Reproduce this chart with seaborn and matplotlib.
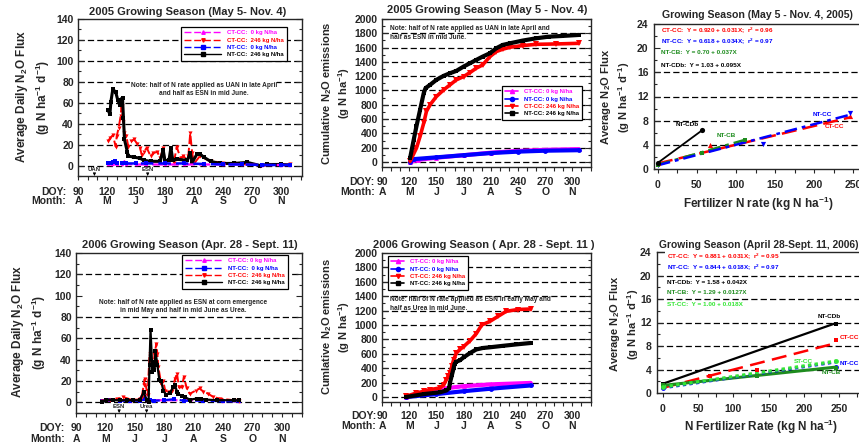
import numpy as np
import pandas as pd
import matplotlib
matplotlib.use("Agg")
import matplotlib.pyplot as plt
import seaborn as sns
from matplotlib.lines import Line2D
from matplotlib.ticker import MultipleLocator
import matplotlib.transforms as mtrans

# ---------------- data ----------------
doy_ticks = [90, 120, 150, 180, 210, 240, 270, 300]
month_labels = ["A", "M", "J", "J", "A", "S", "O", "N"]

# 2005 daily flux
d05_nt246 = [121, 123, 124, 126, 129, 131, 133, 134, 136, 137, 138, 141, 142, 148, 154, 158, 165, 175, 178,
             180, 184, 186, 188, 192, 203, 206, 208, 213, 216, 220, 227, 237, 251, 265, 278, 285, 300, 309]
f05_nt246 = [53, 49, 61, 73, 70, 63, 58, 63, 65, 45, 25, 13, 9, 8, 7, 5, 4, 4, 15,
             4, 5, 17, 5, 6, 5, 12, 3, 11, 11, 8, 4, 2, 2, 3, 0, 1, 1, 0.5]
d05_ct246 = [121, 123, 126, 129, 130, 132, 134, 135, 137, 138, 140, 142, 145, 148, 151, 154, 156, 158, 161, 165,
             168, 172, 175, 178, 180, 185, 189, 192, 196, 199, 203, 204, 206, 208, 210, 216, 227, 251, 278, 309]
f05_ct246 = [23, 26, 29, 18, 28, 36, 47, 57, 42, 31, 28, 18, 23, 25, 21, 17, 10, 13, 17, 9,
             12, 13, 7, 17, 2, 7, 2, 18, 7, 9, 5, 9, 31, 12, 2, 9, 4, 2, 0, 1]
d05_ct0 = [121, 125, 130, 135, 138, 140, 150, 160, 180, 200, 220, 240, 260, 280, 300, 309]
f05_ct0 = [1, 1, 1, 1.5, 4, 1.5, 1, 1, 1, 1, 1, 1, 1, 0.5, 0.5, 0.5]
d05_nt0 = [121, 124, 126, 128, 130, 135, 140, 150, 160, 180, 200, 220, 240, 260, 280, 300, 309]
f05_nt0 = [2, 2, 3, 4.5, 2, 2, 2, 2, 2, 2, 2, 1.5, 1, 1, 0.5, 0.5, 0.5]

# 2005 cumulative
c05_doy_nt246 = [121, 125, 128, 132, 136, 138, 143, 150, 158, 165, 172, 180, 187, 194, 201, 209, 216, 223, 231,
                 245, 260, 274, 289, 307]
c05_nt246 = [56, 312, 500, 730, 963, 1033, 1079, 1149, 1205, 1242, 1274, 1335, 1381, 1428, 1474, 1521, 1591,
             1637, 1660, 1698, 1730, 1753, 1763, 1777]
c05_doy_ct246 = [121, 128, 132, 136, 139, 143, 150, 158, 165, 172, 180, 187, 194, 201, 209, 216, 223, 231, 245,
                 260, 282, 307]
c05_ct246 = [10, 195, 358, 544, 707, 800, 916, 1009, 1079, 1149, 1195, 1251, 1312, 1358, 1474, 1544, 1577, 1605,
             1628, 1646, 1651, 1660]
c05_doy_ct0 = [121, 130, 150, 180, 210, 240, 270, 307]
c05_ct0 = [0, 30, 60, 95, 130, 155, 170, 180]
c05_doy_nt0 = [121, 125, 150, 180, 210, 240, 270, 307]
c05_nt0 = [5, 40, 65, 95, 125, 145, 158, 165]

# 2006 daily flux
d06_nt246 = [117, 121, 128, 135, 142, 148, 155, 159, 162, 164, 165, 166, 168, 169, 170, 171, 173, 175, 177, 179,
             182, 186, 189, 191, 193, 194, 198, 201, 206, 213, 217, 223, 234, 251, 256]
f06_nt246 = [0, 2.5, 2, 2, 2, 2, 2, 9.5, 2, 0, 35, 68, 28, 37, 30, 48, 35, 21, 20, 11,
             7, 9, 14, 16, 10, 8, 6, 5, 2.5, 3.5, 3.5, 2.5, 2, 2, 2]
d06_ct246 = [117, 125, 132, 138, 148, 155, 157, 159, 160, 163, 165, 167, 169, 170, 172, 173, 174, 177, 179, 181,
             184, 188, 191, 193, 195, 198, 200, 203, 206, 212, 216, 220, 225, 230, 237, 251, 256]
f06_ct246 = [1, 2, 3, 5, 2, 3, 5, 16, 22, 6.5, 45, 36, 33, 45, 55, 45, 33, 17, 20, 11,
             10, 11, 22, 27, 14, 14, 24, 13, 8, 11, 13, 10, 8, 5, 3.4, 2, 1.5]
d06_ct0 = [117, 125, 135, 145, 155, 159, 162, 170, 180, 200, 220, 240, 256]
f06_ct0 = [1, 3, 2, 1.5, 2, 11, 2, 2, 2, 2, 2, 1.5, 1]
d06_nt0 = [117, 125, 135, 145, 155, 160, 165, 170, 180, 190, 200, 220, 240, 256]
f06_nt0 = [1, 2, 1.5, 1.5, 1.5, 3, 2, 1.5, 2, 3, 1.5, 1.5, 1, 1]

# 2006 cumulative
c06_doy_ct246 = [117, 128, 136, 143, 154, 158, 161, 163, 165, 167, 169, 172, 176, 180, 187, 194, 200, 209, 218,
                 227, 240, 254]
c06_ct246 = [10, 55, 79, 102, 125, 171, 240, 287, 333, 426, 518, 610, 660, 700, 780, 880, 1000, 1050, 1120,
             1190, 1215, 1222]
c06_doy_nt246 = [117, 136, 154, 161, 164, 165, 167, 169, 170, 172, 176, 180, 187, 194, 201, 209, 223, 238, 254]
c06_nt246 = [0, 40, 65, 90, 120, 200, 300, 400, 460, 490, 510, 550, 610, 660, 680, 690, 710, 730, 750]
c06_doy_ct0 = [117, 140, 155, 160, 180, 210, 254]
c06_ct0 = [5, 50, 80, 120, 150, 175, 195]
c06_doy_nt0 = [117, 150, 180, 210, 254]
c06_nt0 = [0, 40, 80, 115, 160]

# regression panels (N rate kg/ha vs average flux)
r05_ct_x, r05_ct_y = [0, 67, 246], [1.0, 3.9, 8.8]
r05_nt_x, r05_nt_y = [0, 134, 246], [0.7, 4.1, 9.3]
r05_cb_x, r05_cb_y = [0, 56, 112], [0.7, 2.7, 4.8]
r05_cdb_x, r05_cdb_y = [0, 56], [1.0, 6.4]
r05_fit = {"CT-CC": (0.920, 0.031, 246), "NT-CC": (0.618, 0.034, 246),
           "NT-CB": (0.70, 0.037, 112), "NT-CDb": (1.03, 0.095, 56)}

r06_ct_x, r06_ct_y = [0, 67, 134, 246], [1.1, 2.9, 4.0, 9.0]
r06_nt_x, r06_nt_y = [0, 246], [0.9, 4.5]
r06_cdb_x, r06_cdb_y = [0, 246], [1.6, 11.8]
r06_cb_x, r06_cb_y = [0, 134, 246], [1.3, 2.9, 4.2]
r06_st_x, r06_st_y = [0, 246], [1.0, 5.5]
r06_fit = {"CT-CC": (0.881, 0.031, 246), "NT-CC": (0.844, 0.018, 246), "NT-CDb": (1.58, 0.042, 246),
           "NT-CB": (1.29, 0.0127, 246), "ST-CC": (1.00, 0.018, 246)}

MAG, RED, BLUE, BLK = "#ff00ff", "#ff0000", "#0000ff", "#000000"
GRN, LIME = "#1e8c1e", "#33e633"

# ---------------- figure ----------------
sns.set_style("ticks")
plt.rcParams['font.family'] = ['Liberation Sans', 'DejaVu Sans']
plt.rcParams['font.weight'] = 'bold'
plt.rcParams['mathtext.fontset'] = 'custom'
plt.rcParams['mathtext.rm'] = 'Liberation Sans:bold'
plt.rcParams['mathtext.bf'] = 'Liberation Sans:bold'
plt.rcParams['mathtext.default'] = 'rm'
plt.rcParams['axes.linewidth'] = 1.0

W, H = 859, 443
fig = plt.figure(figsize=(W / 100, H / 100), dpi=100)


def add_ax(l, t, r, b):
    return fig.add_axes([l / W, 1 - b / H, (r - l) / W, (b - t) / H])


def ftext(x, y, s, **kw):
    return fig.text(x / W, 1 - y / H, s, **kw)


GRID_LS = (0, (5, 2.5))
TICK_FS = 7.5


def line(ax, x, y, color, ls='-', lw=1.5, marker=None, ms=3, z=2):
    sns.lineplot(x=np.asarray(x, float), y=np.asarray(y, float), ax=ax, color=color, linestyle=ls, lw=lw,
                 marker=marker, markersize=ms, markeredgewidth=0, estimator=None, sort=False, legend=False,
                 zorder=z)


def time_axis(ax, ylim, ymaj, ymin, grid_vals, doy_y, mon_y, colon_x):
    ax.set_xlim(90, 320.5)
    ax.set_ylim(*ylim)
    ax.xaxis.set_major_locator(MultipleLocator(30))
    ax.xaxis.set_minor_locator(MultipleLocator(10))
    ax.yaxis.set_major_locator(MultipleLocator(ymaj))
    ax.yaxis.set_minor_locator(MultipleLocator(ymin))
    ax.set_yticks([v for v in np.arange(0, ylim[1] + 1, ymaj)])
    ax.tick_params(axis='x', which='both', direction='out', length=3, width=0.8, labelbottom=False)
    ax.tick_params(axis='y', which='both', direction='in', left=True, right=True, width=0.8,
                   labelsize=TICK_FS, pad=3)
    ax.tick_params(axis='y', which='major', length=4)
    ax.tick_params(axis='y', which='minor', length=2.5)
    for lab in ax.get_yticklabels():
        lab.set_fontweight('bold')
    for v in grid_vals:
        ax.axhline(v, color='k', ls=GRID_LS, lw=0.9, zorder=0.5)
    tr = mtrans.blended_transform_factory(ax.transData, fig.transFigure)
    for d, m in zip(doy_ticks, month_labels):
        ax.text(d, 1 - doy_y / H, str(d), transform=tr, ha='center', va='center', fontsize=TICK_FS,
                fontweight='bold', clip_on=False)
        ax.text(d, 1 - mon_y / H, m, transform=tr, ha='center', va='center', fontsize=TICK_FS,
                fontweight='bold', clip_on=False)
    ftext(colon_x, doy_y, "DOY:", ha='right', va='center', fontsize=TICK_FS, fontweight='bold')
    ftext(colon_x, mon_y, "Month:", ha='right', va='center', fontsize=TICK_FS, fontweight='bold')
    for s in ax.spines.values():
        s.set_visible(True)
        s.set_linewidth(1.0)


def reg_axis(ax, xlim, grid_vals):
    ax.set_xlim(*xlim)
    ax.set_ylim(0, 24)
    ax.set_xticks([0, 50, 100, 150, 200, 250])
    ax.xaxis.set_minor_locator(MultipleLocator(25))
    ax.set_yticks([0, 4, 8, 12, 16, 20, 24])
    ax.yaxis.set_minor_locator(MultipleLocator(2))
    ax.tick_params(axis='x', which='both', direction='out', length=3, width=0.8, labelsize=TICK_FS, pad=5)
    ax.tick_params(axis='y', which='both', direction='in', left=True, right=True, width=0.8,
                   labelsize=TICK_FS, pad=4)
    ax.tick_params(axis='y', which='major', length=4)
    ax.tick_params(axis='y', which='minor', length=2.5)
    for lab in ax.get_yticklabels() + ax.get_xticklabels():
        lab.set_fontweight('bold')
    for v in grid_vals:
        ax.axhline(v, color='k', ls=GRID_LS, lw=0.9, zorder=0.5)
    for s in ax.spines.values():
        s.set_visible(True)
        s.set_linewidth(1.0)


def make_legend(ax, handles, labels, colors, x, y, hl, fs=4.3):
    leg = ax.legend(handles, labels, loc='upper left', bbox_to_anchor=(x / W, 1 - y / H),
                    bbox_transform=fig.transFigure, fontsize=fs, frameon=True, fancybox=False,
                    edgecolor='k', framealpha=1, handlelength=hl, handletextpad=0.9, borderpad=0.55,
                    labelspacing=0.35, borderaxespad=0, prop={'weight': 'bold', 'size': fs})
    leg.get_frame().set_linewidth(0.9)
    for t, c in zip(leg.get_texts(), colors):
        t.set_color(c)
    leg.set_zorder(5)
    return leg


# ---------------- Panel 1: 2005 daily ----------------
ax1 = add_ax(78, 19, 302, 176)
line(ax1, d05_ct0, f05_ct0, MAG, ls=(0, (5, 2)), lw=1.6, marker='^', ms=2.5, z=3)
line(ax1, d05_ct246, f05_ct246, RED, ls=(0, (5, 2)), lw=1.4, marker='v', ms=3, z=2.5)
line(ax1, d05_nt246, f05_nt246, BLK, ls='-', lw=2.2, marker='s', ms=2.6, z=2.6)
line(ax1, d05_nt0, f05_nt0, BLUE, ls=(0, (5, 2)), lw=1.8, marker='s', ms=2.5, z=3.2)
time_axis(ax1, (-10, 140), 20, 10, [0, 20, 40, 60, 80, 100, 120], 192, 201, 66)
ax1.set_xlim(90, 321.5)
ftext(188, 12, "2005 Growing Season (May 5- Nov. 4)", ha='center', va='center', fontsize=8, fontweight='bold')
ftext(22, 97, "Average Daily N$_2$O Flux", rotation=90, ha='center', va='center', fontsize=8.5, fontweight='bold')
ftext(43, 97, "(g N ha$^{-1}$ d$^{-1}$)", rotation=90, ha='center', va='center', fontsize=8.5, fontweight='bold')
ax1.text(220, 80, "Note: half of N rate applied as UAN in late April\nand half as ESN in mid June.",
         ha='center', va='top', fontsize=4.7, fontweight='bold', linespacing=1.3, zorder=4,
         bbox=dict(facecolor='white', edgecolor='none', pad=0.3))
for lbl, d in [("UAN", 107), ("ESN", 162)]:
    ax1.text(d, -3.5, lbl, ha='center', va='center', fontsize=4.3, fontweight='bold')
    ax1.annotate('', xy=(d, -10), xytext=(d, -5.5),
                 arrowprops=dict(arrowstyle='-|>', lw=0.6, color='k', mutation_scale=4))
h1 = [Line2D([], [], color=MAG, ls=(0, (5, 2)), lw=1, marker='^', ms=2.5),
      Line2D([], [], color=RED, ls=(0, (5, 2)), lw=1, marker='v', ms=2.5),
      Line2D([], [], color=BLUE, ls=(0, (5, 2)), lw=1, marker='s', ms=2.5),
      Line2D([], [], color=BLK, ls='-', lw=1, marker='s', ms=2.5)]
make_legend(ax1, h1, ["CT-CC:  0 kg N/ha", "CT-CC:  246 kg N/ha", "NT-CC:  0 kg N/ha", "NT-CC:  246 kg N/ha"],
            [MAG, RED, BLUE, BLK], 181, 27, 6.2)

# ---------------- Panel 2: 2005 cumulative ----------------
ax2 = add_ax(382, 19, 591, 167)
line(ax2, c05_doy_ct0, c05_ct0, MAG, lw=3, marker='^', ms=3.5, z=2)
line(ax2, c05_doy_nt0, c05_nt0, BLUE, lw=3, marker='o', ms=3.5, z=2.2)
line(ax2, c05_doy_ct246, c05_ct246, RED, lw=2.6, marker='v', ms=4, z=2.4)
line(ax2, c05_doy_nt246, c05_nt246, BLK, lw=3, marker='s', ms=3.5, z=2.6)
time_axis(ax2, (-70, 2000), 200, 100, list(range(0, 2000, 200)), 182, 192, 375)
ftext(487, 10, "2005 Growing Season (May 5 - Nov. 4)", ha='center', va='center', fontsize=8, fontweight='bold')
ftext(327, 93, "Cumulative N$_2$O emissions", rotation=90, ha='center', va='center', fontsize=8)
ftext(344, 93, "(g N ha$^{-1}$)", rotation=90, ha='center', va='center', fontsize=8)
ax2.text(99, 1910, "Note: half of N rate applied as UAN in late April and\nhalf as ESN in mid June.",
         ha='left', va='top', fontsize=4.7, fontweight='bold', linespacing=1.3, zorder=4)
h2 = [Line2D([], [], color=MAG, lw=1.2, marker='^', ms=3),
      Line2D([], [], color=BLUE, lw=1.2, marker='o', ms=3),
      Line2D([], [], color=RED, lw=1.2, marker='v', ms=3),
      Line2D([], [], color=BLK, lw=1.2, marker='s', ms=3)]
make_legend(ax2, h2, ["CT-CC: 0 kg N/ha", "NT-CC: 0 kg N/ha", "CT-CC: 246 kg N/ha", "NT-CC: 246 kg N/ha"],
            [MAG, BLUE, RED, BLK], 502, 86, 2.2)

# ---------------- Panel 3: 2005 regression ----------------
ax3 = add_ax(654, 24, 875, 169)
a, b, xm = r05_fit["CT-CC"]
line(ax3, [0, xm], [a, a + b * xm], RED, ls=(0, (6, 2.5)), lw=1.8, z=2)
a, b, xm = r05_fit["NT-CC"]
line(ax3, [0, xm], [a, a + b * xm], BLUE, ls=(0, (5, 2, 1.5, 2)), lw=1.8, z=2.2)
a, b, xm = r05_fit["NT-CB"]
line(ax3, [0, xm], [a, a + b * xm], GRN, ls=(0, (5, 2, 1.5, 2)), lw=1.8, z=2.1)
a, b, xm = r05_fit["NT-CDb"]
line(ax3, [0, xm], [a, a + b * xm], BLK, lw=1.3, z=2.3)
sns.scatterplot(x=r05_ct_x, y=r05_ct_y, ax=ax3, color=RED, marker='^', s=14, linewidth=0, zorder=3)
sns.scatterplot(x=r05_nt_x, y=r05_nt_y, ax=ax3, color=BLUE, marker='v', s=14, linewidth=0, zorder=3)
sns.scatterplot(x=r05_cb_x, y=r05_cb_y, ax=ax3, color=GRN, marker='s', s=10, linewidth=0, zorder=3)
sns.scatterplot(x=r05_cdb_x, y=r05_cdb_y, ax=ax3, color=BLK, marker='o', s=14, linewidth=0, zorder=3.5)
reg_axis(ax3, (-5, 278), [4, 8, 12, 16])
ftext(757, 15, "Growing Season (May 5 - Nov. 4, 2005)", ha='center', va='center', fontsize=7.6, fontweight='bold')
ftext(606, 97, "Average N$_2$O Flux", rotation=90, ha='center', va='center', fontsize=8, fontweight='bold')
ftext(624, 97, "(g N ha$^{-1}$ d$^{-1}$)", rotation=90, ha='center', va='center', fontsize=8, fontweight='bold')
ftext(758, 204, "Fertilizer N rate (kg N ha$^{-1}$)", ha='center', va='center', fontsize=8.5, fontweight='bold')
eq05 = [("CT-CC:  Y = 0.920 + 0.031X;  r$^2$ = 0.96", RED, 22.9),
        ("NT-CC:  Y = 0.618 + 0.034X;  r$^2$ = 0.97", BLUE, 21.1),
        ("NT-CB:  Y = 0.70 + 0.037X", GRN, 19.2),
        ("NT-CDb:  Y = 1.03 + 0.095X", BLK, 17.1)]
for s, c, yv in eq05:
    ax3.text(4, yv, s, color=c, ha='left', va='center', fontsize=4.6, fontweight='bold')
for s, c, xv, yv in [("NT-CDb", BLK, 38, 7.3), ("NT-CB", GRN, 88, 5.5), ("NT-CC", BLUE, 210, 9.1),
                     ("CT-CC", RED, 226, 7.0)]:
    ax3.text(xv, yv, s, color=c, ha='center', va='center', fontsize=4.6, fontweight='bold')

# ---------------- Panel 4: 2006 daily ----------------
ax4 = add_ax(76, 253, 302, 413)
line(ax4, d06_ct0, f06_ct0, MAG, ls=(0, (5, 2)), lw=1.6, marker='^', ms=2.5, z=2)
line(ax4, d06_nt0, f06_nt0, BLUE, ls=(0, (5, 2)), lw=1.6, marker='s', ms=2.5, z=2.2)
line(ax4, d06_ct246, f06_ct246, RED, ls=(0, (4, 1.5)), lw=1.4, marker='v', ms=3, z=2.4)
line(ax4, d06_nt246, f06_nt246, BLK, ls='-', lw=1.6, marker='s', ms=2.3, z=2.6)
time_axis(ax4, (-10, 140), 20, 10, [0, 20, 40, 60, 80, 120], 428, 439, 65)
ftext(190, 245, "2006 Growing Season (Apr. 28 - Sept. 11)", ha='center', va='center', fontsize=8,
      fontweight='bold')
ftext(18, 332, "Average Daily N$_2$O Flux", rotation=90, ha='center', va='center', fontsize=8.5, fontweight='bold')
ftext(39, 332, "(g N ha$^{-1}$ d$^{-1}$)", rotation=90, ha='center', va='center', fontsize=8.5, fontweight='bold')
ax4.text(199, 97, "Note: half of N rate applied as ESN at corn emergence\nin mid May and half in mid June as Urea.",
         ha='center', va='top', fontsize=4.7, fontweight='bold', linespacing=1.3, zorder=4)
for lbl, d in [("ESN", 134), ("Urea", 162)]:
    ax4.text(d, -3.5, lbl, ha='center', va='center', fontsize=4.3, fontweight='bold')
    ax4.annotate('', xy=(d, -10), xytext=(d, -5.5),
                 arrowprops=dict(arrowstyle='-|>', lw=0.6, color='k', mutation_scale=4))
h4 = [Line2D([], [], color=MAG, ls=(0, (5, 2)), lw=1, marker='^', ms=2.5),
      Line2D([], [], color=BLUE, ls=(0, (5, 2)), lw=1, marker='s', ms=2.5),
      Line2D([], [], color=RED, ls=(0, (5, 2)), lw=1, marker='v', ms=2.5),
      Line2D([], [], color=BLK, ls='-', lw=1, marker='s', ms=2.5)]
make_legend(ax4, h4, ["CT-CC: 0 kg N/ha", "NT-CC:  0 kg N/ha", "CT-CC:  246 kg N/ha", "NT-CC:  246 kg N/ha"],
            [MAG, BLUE, RED, BLK], 182, 255, 6.2)

# ---------------- Panel 5: 2006 cumulative ----------------
ax5 = add_ax(382, 253, 591, 402)
line(ax5, c06_doy_ct0, c06_ct0, MAG, lw=3, marker='^', ms=3.5, z=2)
line(ax5, c06_doy_nt0, c06_nt0, BLUE, lw=3, marker='o', ms=3.5, z=2.2)
line(ax5, c06_doy_ct246, c06_ct246, RED, lw=2.6, marker='v', ms=4, z=2.4)
line(ax5, c06_doy_nt246, c06_nt246, BLK, lw=3, marker='s', ms=3.5, z=2.6)
time_axis(ax5, (-70, 2000), 200, 100, list(range(0, 2000, 200)), 416, 426, 376)
ftext(484, 245, "2006 Growing Season ( Apr. 28 - Sept. 11 )", ha='center', va='center', fontsize=8,
      fontweight='bold')
ftext(327, 327, "Cumlative N$_2$O emissions", rotation=90, ha='center', va='center', fontsize=8)
ftext(344, 327, "(g N ha$^{-1}$)", rotation=90, ha='center', va='center', fontsize=8)
ax5.text(99, 1400, "Note: half of N rate applied as ESN in early May and\nhalf as Urea in mid June.",
         ha='left', va='top', fontsize=4.7, fontweight='bold', linespacing=1.3, zorder=4)
make_legend(ax5, h2, ["CT-CC: 0 kg N/ha", "NT-CC: 0 kg N/ha", "CT-CC: 246 kg N/ha", "NT-CC: 246 kg N/ha"],
            [MAG, BLUE, RED, BLK], 388, 256, 2.2)

# ---------------- Panel 6: 2006 regression ----------------
ax6 = add_ax(657, 252, 875, 393)
a, b, xm = r06_fit["NT-CDb"]
line(ax6, [0, xm], [a, a + b * xm], BLK, lw=1.6, z=2)
a, b, xm = r06_fit["CT-CC"]
line(ax6, [0, xm], [a, a + b * xm], RED, ls=(0, (6, 3)), lw=1.8, z=2)
a, b, xm = r06_fit["NT-CB"]
line(ax6, [0, xm], [a, a + b * xm], GRN, lw=2.2, z=2.1)
a, b, xm = r06_fit["NT-CC"]
line(ax6, [0, xm], [a, a + b * xm], BLUE, ls=(0, (1.2, 1.2)), lw=2.0, z=2.2)
a, b, xm = r06_fit["ST-CC"]
line(ax6, [0, xm], [a, a + b * xm], LIME, ls=(0, (1, 1)), lw=2.4, z=2.3)
sns.scatterplot(x=r06_ct_x, y=r06_ct_y, ax=ax6, color=RED, marker='s', s=12, linewidth=0, zorder=3)
sns.scatterplot(x=r06_nt_x, y=r06_nt_y, ax=ax6, color=BLUE, marker='o', s=12, linewidth=0, zorder=3)
sns.scatterplot(x=r06_cdb_x, y=r06_cdb_y, ax=ax6, color=BLK, marker='s', s=12, linewidth=0, zorder=3)
sns.scatterplot(x=r06_cb_x, y=r06_cb_y, ax=ax6, color=GRN, marker='s', s=10, linewidth=0, zorder=3)
sns.scatterplot(x=r06_st_x, y=r06_st_y, ax=ax6, color=LIME, marker='o', s=12, linewidth=0, zorder=3)
reg_axis(ax6, (-8.5, 301), [4, 8, 12, 16, 20])
ftext(759, 245, "Growing Season (April 28-Sept. 11, 2006)", ha='center', va='center', fontsize=7.4,
      fontweight='bold')
ftext(615, 324, "Average N$_2$O Flux", rotation=90, ha='center', va='center', fontsize=8, fontweight='bold')
ftext(633, 324, "(g N ha$^{-1}$ d$^{-1}$)", rotation=90, ha='center', va='center', fontsize=8, fontweight='bold')
ftext(761, 427, "N Fertilizer Rate (kg N ha$^{-1}$)", ha='center', va='center', fontsize=8.5, fontweight='bold')
eq06 = [("CT-CC:  Y = 0.881 + 0.031X;  r$^2$ = 0.95", RED, 23.2),
        ("NT-CC:  Y = 0.844 + 0.018X;  r$^2$ = 0.97", BLUE, 21.2),
        ("NT-CDb:  Y = 1.58 + 0.042X", BLK, 18.8),
        ("NT-CB:  Y = 1.29 + 0.0127X", GRN, 17.1),
        ("ST-CC:  Y = 1.00 + 0.018X", LIME, 15.1)]
for s, c, yv in eq06:
    ax6.text(5, yv, s, color=c, ha='left', va='center', fontsize=4.6, fontweight='bold', zorder=4,
             bbox=dict(facecolor='white', edgecolor='none', pad=0.8))
for s, c, xv, yv, ha in [("NT-CDb", BLK, 236, 13.1, 'center'), ("CT-CC", RED, 251, 9.4, 'left'),
                         ("ST-CC", LIME, 199, 5.3, 'center'), ("NT-CC", BLUE, 251, 5.0, 'left'),
                         ("NT-CB", GRN, 239, 3.5, 'center')]:
    ax6.text(xv, yv, s, color=c, ha=ha, va='center', fontsize=4.6, fontweight='bold', zorder=4)

fig.savefig("out.png", dpi=100)
